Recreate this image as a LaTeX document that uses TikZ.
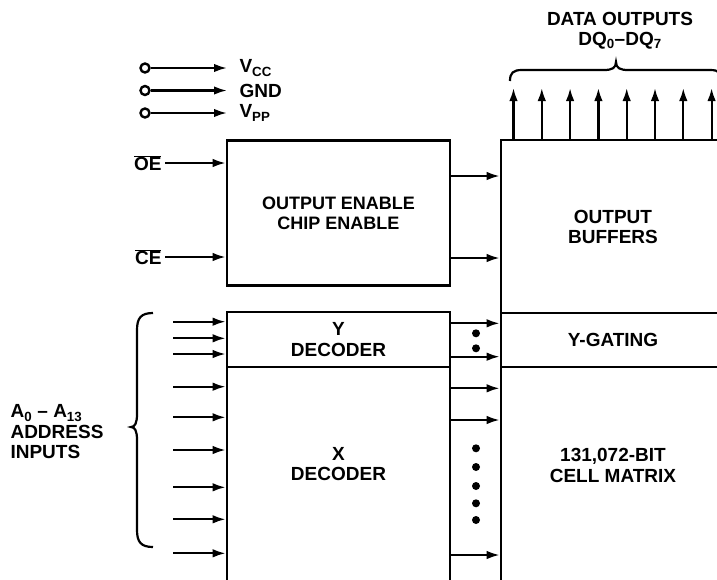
\documentclass[tikz,border=0pt]{standalone}
\usepackage{fontspec}
\setmainfont{Liberation Sans}
\usetikzlibrary{arrows.meta,decorations.pathreplacing,positioning}

\begin{document}
\begin{tikzpicture}[x=1pt,y=-1pt,every text node part/.style={align=center},
  font=\bfseries\fontsize{19}{20.5}\selectfont,
  blk/.style={draw,line width=2.6pt,inner sep=0pt},
  arr/.style={line width=2.2pt,-{Latex[length=13pt,width=8.5pt]}},
  pin/.style={circle,draw,line width=2.4pt,minimum size=9pt,inner sep=0pt},
  dotmark/.style={circle,fill,inner sep=0pt,minimum size=8pt}]

    \useasboundingbox (0,0) rectangle (717,579);
    \clip (0,0) rectangle (717,579);

    %% supply pins
    \node[pin] (pinvcc) at (145,68) {};
    \node[anchor=west] (vcc) at (236,68) {V\textsubscript{CC}};
    \node[pin] (pingnd) at (145,90.5) {};
    \node[anchor=west] (gnd) at (236,90.5) {GND};
    \node[pin] (pinvpp) at (145,113) {};
    \node[anchor=west] (vpp) at (236,113) {V\textsubscript{PP}};
    \draw[arr] (pinvcc) -- ([xshift=-9pt]vcc.west);
    \draw[arr] (pingnd) -- ([xshift=-9pt]gnd.west);
    \draw[arr] (pinvpp) -- ([xshift=-9pt]vpp.west);

    %% enable logic
    \node[blk, minimum width=223pt, minimum height=145pt, font=\bfseries\fontsize{18}{20}\selectfont] (ctrl) at (338.5,213) {OUTPUT ENABLE\\CHIP ENABLE};
    \node[anchor=east] (oe) at (165,163) {$\overline{\mbox{OE}}$};
    \node[anchor=east] (ce) at (165,257) {$\overline{\mbox{CE}}$};
    \draw[arr] (oe) -- (oe -| ctrl.west);
    \draw[arr] (ce) -- (ce -| ctrl.west);

    %% right column
    \node[blk, minimum width=224pt, minimum height=173pt] (buf) at (613,226.5) {};
    \node (buftext) at (613,227) {OUTPUT\\BUFFERS};
    \node[blk, minimum width=224pt, minimum height=54pt] (ygate) at (613,340) {Y-GATING};
    \node[blk, minimum width=224pt, minimum height=234pt] (matrix) at (613,484) {};
    \node (mattext) at (613,465.5) {131,072-BIT\\CELL MATRIX};

    \draw[arr] ([yshift=37pt]ctrl.east) coordinate (en1) -- (en1 -| buf.west);
    \draw[arr] ([yshift=-45pt]ctrl.east) coordinate (en2) -- (en2 -| buf.west);

    % data outputs
    \foreach \i in {0,...,7}
      \draw[arr] ({513.5+28.3*\i},140) -- ({513.5+28.3*\i},88);
    \draw[line width=2.2pt] (510,81) .. controls (510,73) and (513,70) .. (522,70) -- (604,70)
      .. controls (612,70) and (616,68) .. (616,62) .. controls (616,68) and (620,70) .. (628,70)
      -- (710,70) .. controls (719,70) and (722,73) .. (722,81);
    \node (dq) at (620,30.5) {DATA OUTPUTS\\DQ\textsubscript{0}--DQ\textsubscript{7}};

    %% decoders
    \node[blk, minimum width=223pt, minimum height=55pt] (ydec) at (338.5,339.5) {Y\\DECODER};
    \node[blk, minimum width=223pt, minimum height=234pt] (xdec) at (338.5,484) {};
    \node (xtext) at (338.5,464) {X\\DECODER};

    \foreach \y in {321.7,338.3,354}
      \draw[arr] (173,\y) coordinate (a) -- (a -| ydec.west);
    \foreach \y in {386.7,417.3,450,487.3,519.3,553.3}
      \draw[arr] (173,\y) coordinate (a) -- (a -| xdec.west);

    \foreach \y in {323.3,356.7}
      \draw[arr] (450,\y) coordinate (t) -- (t -| ygate.west);
    \foreach \y in {388.3,420,555}
      \draw[arr] (450,\y) coordinate (t) -- (t -| matrix.west);
    \foreach \y in {333.3,348.3,448.3,467,486,503.3,520}
      \node[dotmark] (dot\y) at (476,\y) {};

    % address inputs
    \draw[line width=2.2pt] (153,313) .. controls (141,313) and (137,318) .. (137,330) -- (137,414)
      .. controls (137,423) and (135,427) .. (131,427) .. controls (135,427) and (137,431) .. (137,440)
      -- (137,530) .. controls (137,542) and (141,547) .. (153,547);
    \node[anchor=west, every text node part/.style={align=left}] (addr) at (7,432)
      {A\textsubscript{0} -- A\textsubscript{13}\\ADDRESS\\INPUTS};
  \end{tikzpicture}
\end{document}
